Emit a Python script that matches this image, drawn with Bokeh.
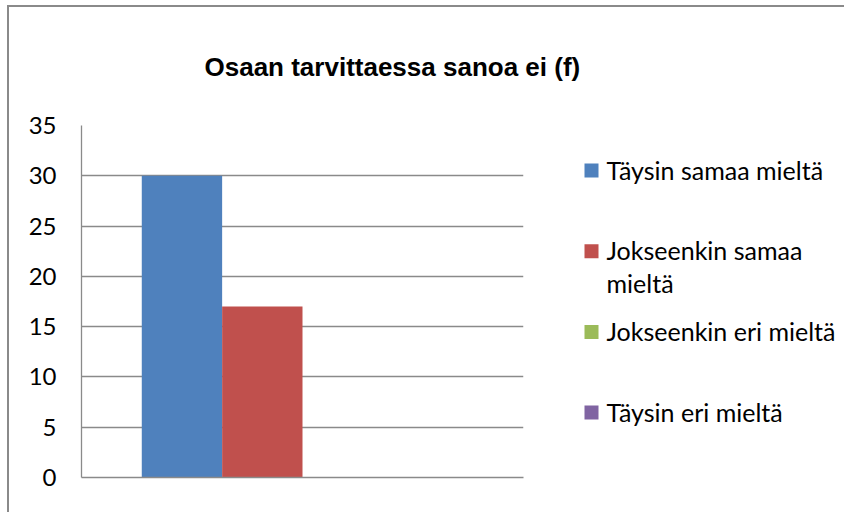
from bokeh.plotting import figure
from bokeh.layouts import row
from bokeh.models import Range1d, FactorRange, ColumnDataSource, FixedTicker
from bokeh.transform import dodge
from bokeh.core.properties import value
from bokeh.embed import file_html
from bokeh.resources import INLINE

title_text = "Osaan tarvittaessa sanoa ei (f)"
series = ["Täysin samaa mieltä", "Jokseenkin samaa mieltä", "Jokseenkin eri mieltä", "Täysin eri mieltä"]
legend_labels = ["Täysin samaa mieltä", "Jokseenkin samaa\nmieltä", "Jokseenkin eri mieltä", "Täysin eri mieltä"]
values = [30, 17, 0, 0]
colors = ["#4F81BD", "#C0504D", "#9BBB59", "#8064A2"]
y_ticks = [0, 5, 10, 15, 20, 25, 30, 35]
group = [""]

GRID = "#8a8a8a"
H = 505
W1, W2 = 574, 261
FL, FR, FT, FB = 72, 514, 118, 470

p = figure(x_range=FactorRange(factors=group), y_range=Range1d(0, 35),
           width=W1, height=H, output_backend="svg", toolbar_location=None,
           min_border_left=FL, min_border_right=W1 - FR, min_border_top=FT,
           min_border_bottom=H - FB)
p.outline_line_color = None
p.x_range.range_padding = 0

p.title.text = title_text
p.title.align = "left"
p.title.offset = 123
p.title.vertical_align = "top"
p.title.standoff = 84
p.title.text_font = "Liberation Sans"
p.title.text_font_style = "bold"
p.title.text_font_size = "26px"
p.title.text_color = "black"

w = 1 / 5.5
for i, (s, v, c) in enumerate(zip(series, values, colors)):
    src = ColumnDataSource(dict(x=group, top=[v]))
    p.vbar(x=dodge("x", (i - 1.5) * w, range=p.x_range), top="top", width=w,
           source=src, fill_color=c, line_color=None)

p.yaxis.ticker = FixedTicker(ticks=y_ticks)
p.yaxis.major_tick_out = 0
p.yaxis.major_tick_in = 0
p.yaxis.minor_tick_out = 0
p.yaxis.minor_tick_in = 0
p.yaxis.major_label_standoff = 25
p.yaxis.major_label_text_font = "Lato"
p.yaxis.major_label_text_font_size = "24px"
p.yaxis.major_label_text_color = "black"
p.yaxis.axis_line_color = GRID
p.yaxis.axis_line_width = 1.3

p.xaxis.major_tick_out = 0
p.xaxis.major_tick_in = 0
p.xaxis.major_label_text_font_size = "0px"
p.xaxis.axis_line_color = GRID
p.xaxis.axis_line_width = 1.3

p.xgrid.grid_line_color = None
p.ygrid.grid_line_color = GRID
p.ygrid.grid_line_width = 1.3

# legend panel in page-pixel coordinates (y grows downward)
X0 = 9 + W1
lg = figure(x_range=Range1d(X0, X0 + W2), y_range=Range1d(477, 125), width=W2, height=H,
            output_backend="svg", toolbar_location=None,
            min_border_left=0, min_border_right=0, min_border_top=FT, min_border_bottom=H - FB)
lg.axis.visible = False
lg.grid.visible = False
lg.outline_line_color = None

n = len(series)
sq_x = [591] * n
sq_y = [170 + i * 80.7 for i in range(n)]
txt_x = [606] * n
txt_y = [yy - 16 for yy in sq_y]
lg.rect(x=sq_x, y=sq_y, width=14, height=14, width_units="screen", height_units="screen",
        fill_color=colors, line_color=None)
lg.text(x=txt_x, y=txt_y, text=legend_labels, text_font=value("Lato"), text_font_size="25px",
        text_color="black", text_baseline="top", text_align="left", text_line_height=1.1)

layout = row(p, lg, styles={"margin-left": "7px", "margin-top": "5px",
                            "border-top": "2px solid #8a8a8a",
                            "border-left": "2px solid #8a8a8a"})

open("out.html", "w").write(file_html(layout, INLINE))
